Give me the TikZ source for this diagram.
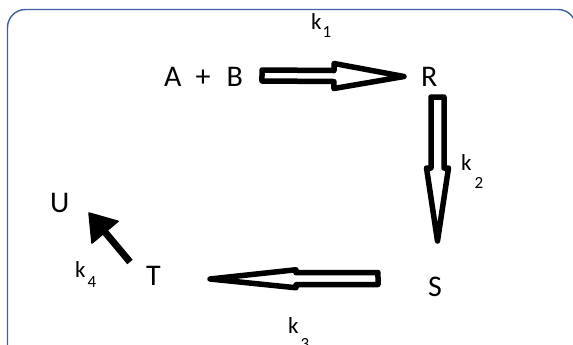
\documentclass[tikz,border=0pt]{standalone}
\usepackage{fontspec}
\setmainfont{Carlito}
\usetikzlibrary{calc}

\definecolor{framecol}{RGB}{64,94,168}

% Hollow block arrow: start, tip, head length, shaft half-width, head half-width
\newcommand\hollowarrow[5]{%
  \draw[blockarrow]
    ($(#1)!#4!90:(#2)$) --
    ($(#2)!#3!(#1)!#4!-90:(#1)$) --
    ($(#2)!#3!(#1)!#5!-90:(#1)$) --
    (#2) --
    ($(#2)!#3!(#1)!#5!90:(#1)$) --
    ($(#2)!#3!(#1)!#4!90:(#1)$) --
    ($(#1)!#4!-90:(#2)$) -- cycle;}

\newcommand\bigtxt{\fontsize{30}{32}\selectfont}
\newcommand\ktxt{\fontsize{23}{25}\selectfont}
\newcommand\subtxt{\fontsize{17}{19}\selectfont}
\newcommand\rate[3]{{\ktxt k}\kern#2\raisebox{-#3}{\subtxt #1}}

\begin{document}
\begin{tikzpicture}[x=1pt,y=-1pt,
  species/.style={inner sep=0pt,anchor=base west,font=\bigtxt},
  ratelabel/.style={inner sep=0pt,anchor=base west},
  blockarrow/.style={draw=black,fill=white,line width=5.5pt,line join=round},
  framebox/.style={draw=framecol,line width=1.4pt,rounded corners=18pt}]
  \useasboundingbox (0,0) rectangle (573,345);
  \clip (0,0) rectangle (573,345);

  % panel outline
  \draw[framebox] (7.5,380) -- (7.5,9.5) -- (576,9.5) -- (576,380);

  % species
  \node[species] (AB) at (164,87) {A\kern14pt+\kern16pt B};
  \node[species] (R) at (421,86) {R};
  \node[species] (S) at (428,296) {S};
  \node[species] (T) at (146,285) {T};
  \node[species] (U) at (50,212) {U};

  % rate constants
  \node[ratelabel] (k1) at (311,30) {\rate{1}{1pt}{8pt}};
  \node[ratelabel] (k2) at (461,170) {\rate{2}{3pt}{18pt}};
  \node[ratelabel] (k3) at (288,333) {\rate{3}{2pt}{16pt}};
  \node[ratelabel] (k4) at (75,277) {\rate{4}{2pt}{10pt}};

  % arrow end points
  \coordinate (a1s) at (262,75.5);
  \coordinate (a1e) at (404,76.5);
  \coordinate (a2s) at (437.5,97);
  \coordinate (a2e) at (437.5,241);
  \coordinate (a3s) at (378,278.5);
  \coordinate (a3e) at (210,279);
  \coordinate (a4s) at (130,262);
  \coordinate (a4e) at (89,213);

  % reaction arrows
  \hollowarrow{a1s}{a1e}{70pt}{5.5pt}{12.5pt}
  \hollowarrow{a2s}{a2e}{73pt}{6.5pt}{11pt}
  \hollowarrow{a3s}{a3e}{86pt}{6pt}{9pt}

  % solid arrow T -> U
  \draw[line width=7pt] (a4s) -- ($(a4e)!20pt!(a4s)$);
  \filldraw[line width=1.5pt,line join=round]
    ($(a4e)!25pt!(a4s)!17pt!90:(a4s)$) -- (a4e) --
    ($(a4e)!25pt!(a4s)!17pt!-90:(a4s)$) -- cycle;
\end{tikzpicture}
\end{document}
